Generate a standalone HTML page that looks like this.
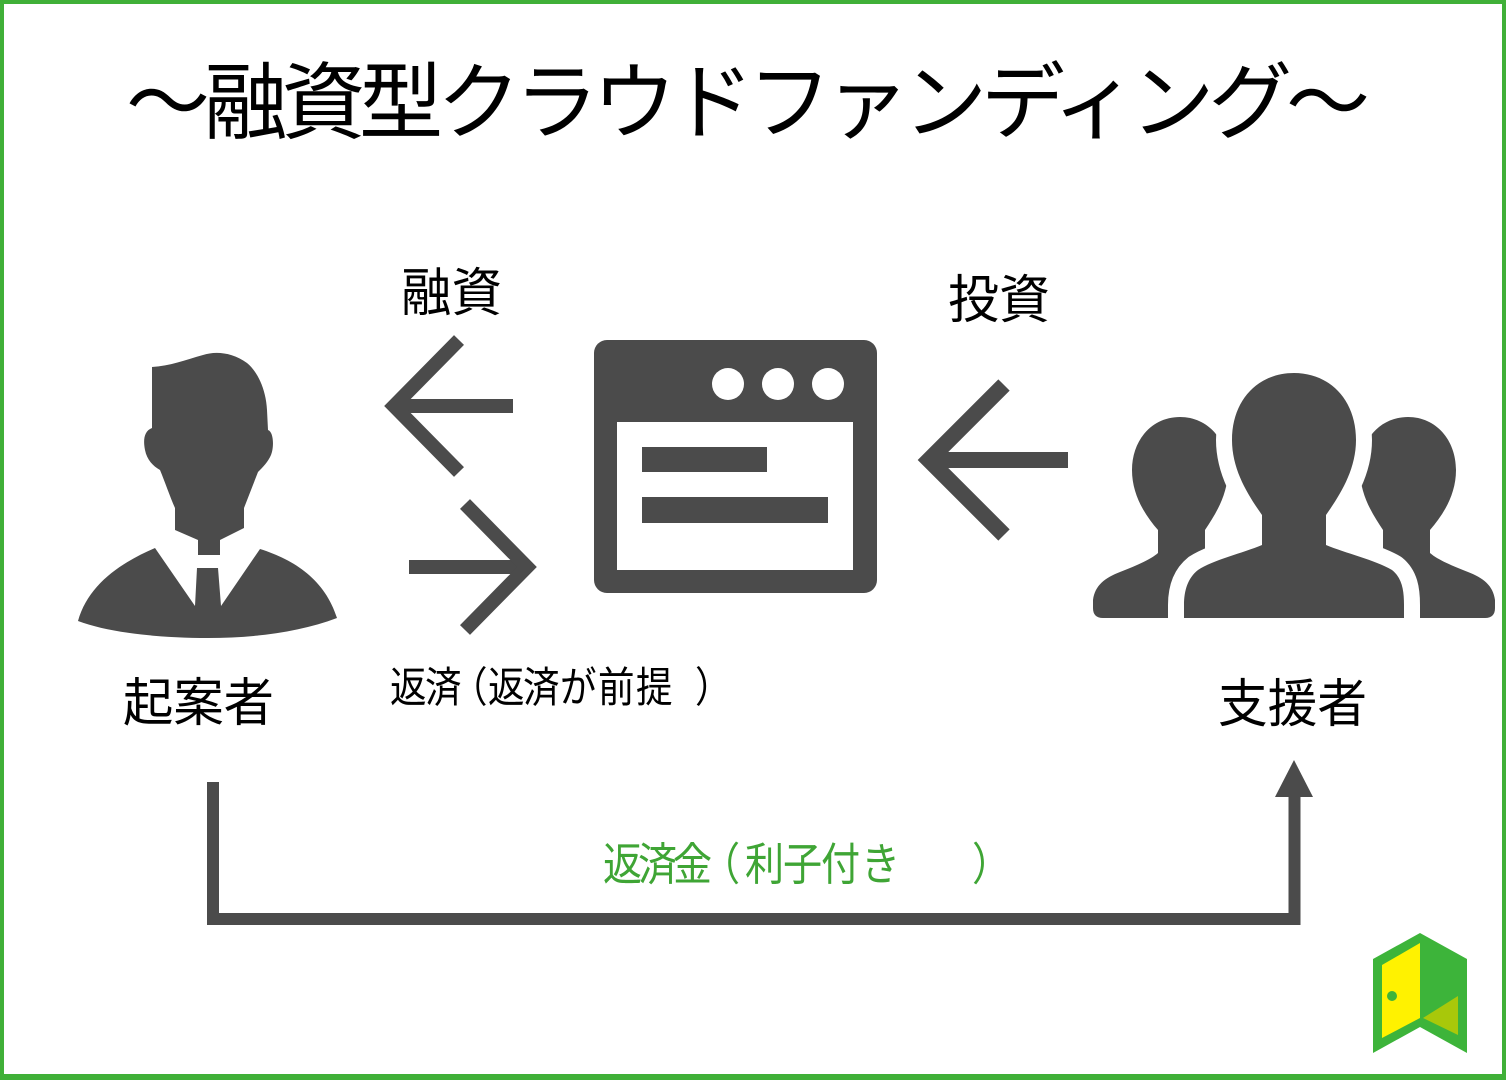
<!DOCTYPE html>
<html>
<head>
<meta charset="utf-8">
<style>
  html, body { margin: 0; padding: 0; background: #fff; }
  body { width: 1506px; height: 1080px; overflow: hidden; }
  svg { display: block; }
  text { font-family: "Liberation Sans", "Noto Sans CJK JP", sans-serif; }
</style>
</head>
<body>
<svg width="1506" height="1080" viewBox="0 0 1506 1080" xmlns="http://www.w3.org/2000/svg">
  <!-- background + border -->
  <rect x="0" y="0" width="1506" height="1080" fill="#ffffff"/>
  <rect x="2" y="2" width="1502" height="1075" fill="none" stroke="#40b038" stroke-width="4"/>
  <rect x="0" y="1074" width="1506" height="6" fill="#40b038"/>

  <!-- Title -->
  <text x="126" y="132" font-size="84" fill="#000" textLength="1244" lengthAdjust="spacing">〜融資型クラウドファンディング〜</text>

  <!-- Labels -->
  <text x="401" y="311" font-size="52" fill="#000" textLength="101" lengthAdjust="spacingAndGlyphs">融資</text>
  <text x="948" y="318" font-size="52" fill="#000" textLength="102" lengthAdjust="spacingAndGlyphs">投資</text>
  <text x="123" y="721" font-size="52" fill="#000" textLength="151" lengthAdjust="spacingAndGlyphs">起案者</text>
  <text x="1218" y="722" font-size="52" fill="#000" textLength="149" lengthAdjust="spacingAndGlyphs">支援者</text>

  <g transform="scale(0.87,1)">
    <text y="702" font-size="42" fill="#000" x="448.3 488.5 518.4 560.9 601.1 643.7 687.4 731.0 798.9">返済（返済が前提）</text>
    <text y="880" font-size="45" fill="#3fa535" x="693.1 733.3 773.6 805.7 856.3 900.0 943.7 989.7 1117.2">返済金（利子付き）</text>
  </g>

  <!-- Person (起案者) -->
  <g fill="#4b4b4b">
    <path d="M152,367 C170,366 185,360 203,355 C215,351 232,352 247,363 C258,372 266,390 267,410 L268,430 C274,432 274,448 271,455 C268,462 263,467 258,472 L244,508 L244,528 L220,540 L220,555 L198,555 L198,540 L175,530 L175,508 C170,497 165,482 160,470 C153,466 147,460 145,450 C143,440 144,431 152,428 Z"/>
    <path d="M155,548 L195,606 L197,568 L218,568 L221,606 L260,549 C295,560 325,580 337,618 C300,632 255,638 208,638 C160,638 110,633 78,621 C88,585 120,563 155,548 Z"/>
  </g>

  <!-- Arrows near left -->
  <g fill="none" stroke="#4b4b4b" stroke-width="14" stroke-linecap="butt" stroke-linejoin="miter" stroke-miterlimit="10">
    <line x1="394" y1="406" x2="513" y2="406"/>
    <polyline points="459,340 394,406 459,472"/>
    <line x1="409" y1="567" x2="527" y2="567"/>
    <polyline points="465,504 527,567 465,630"/>
  </g>

  <!-- Right arrow (pointing left) -->
  <g fill="none" stroke="#4b4b4b" stroke-width="16" stroke-linecap="butt" stroke-linejoin="miter" stroke-miterlimit="10">
    <line x1="929" y1="460" x2="1068" y2="460"/>
    <polyline points="1004,385 929,460 1004,535"/>
  </g>

  <!-- Browser icon -->
  <rect x="594" y="340" width="283" height="253" rx="13" ry="13" fill="#4b4b4b"/>
  <rect x="617" y="422" width="236" height="148" fill="#ffffff"/>
  <circle cx="728" cy="384" r="16" fill="#ffffff"/>
  <circle cx="778" cy="384" r="16" fill="#ffffff"/>
  <circle cx="828" cy="384" r="16" fill="#ffffff"/>
  <rect x="642" y="447" width="125" height="25" fill="#4b4b4b"/>
  <rect x="642" y="497" width="186" height="26" fill="#4b4b4b"/>

  <!-- Group icon (支援者) -->
  <g fill="#4b4b4b">
    <path d="M1180,417 C1208,417 1228,440 1228,470 C1228,495 1215,515 1205,530 L1205,555 C1215,565 1230,570 1240,580 L1240,618 L1103,618 Q1093,618 1093,608 L1093,600 C1095,585 1105,578 1120,572 C1135,566 1150,560 1158,553 L1158,530 C1145,515 1132,495 1132,470 C1132,440 1152,417 1180,417 Z"/>
    <path transform="translate(2588,0) scale(-1,1)" d="M1180,417 C1208,417 1228,440 1228,470 C1228,495 1215,515 1205,530 L1205,555 C1215,565 1230,570 1240,580 L1240,618 L1103,618 Q1093,618 1093,608 L1093,600 C1095,585 1105,578 1120,572 C1135,566 1150,560 1158,553 L1158,530 C1145,515 1132,495 1132,470 C1132,440 1152,417 1180,417 Z"/>
    <path stroke="#ffffff" stroke-width="32" stroke-linejoin="round" paint-order="stroke" d="M1294,373 C1330,373 1356,400 1356,440 C1356,470 1340,495 1326,515 L1326,545 C1345,553 1375,560 1392,570 C1402,578 1404,590 1404,605 L1404,618 L1184,618 L1184,605 C1184,590 1188,578 1198,570 C1213,560 1243,553 1262,545 L1262,515 C1248,495 1232,470 1232,440 C1232,400 1258,373 1294,373 Z"/>
  </g>
  <!-- clean below group baseline (stroke spill) -->
  <rect x="1080" y="619" width="420" height="30" fill="#ffffff"/>

  <!-- Bottom connector -->
  <path d="M213,782 L213,919 L1294.5,919 L1294.5,795" fill="none" stroke="#4b4b4b" stroke-width="12" stroke-linejoin="miter" stroke-linecap="butt"/>
  <polygon points="1275,797 1313,797 1294,760" fill="#4b4b4b"/>

  <!-- Logo -->
  <polygon points="1420,933 1467,959 1467,1053 1420,1027 1373,1053 1373,959" fill="#3db43a"/>
  <polygon points="1382,965 1420,943 1420,1018 1382,1038" fill="#fff200"/>
  <polygon points="1423,1018 1458,996 1458,1035" fill="#a8c80a"/>
  <circle cx="1392" cy="996" r="5" fill="#3db43a"/>
</svg>
</body>
</html>
